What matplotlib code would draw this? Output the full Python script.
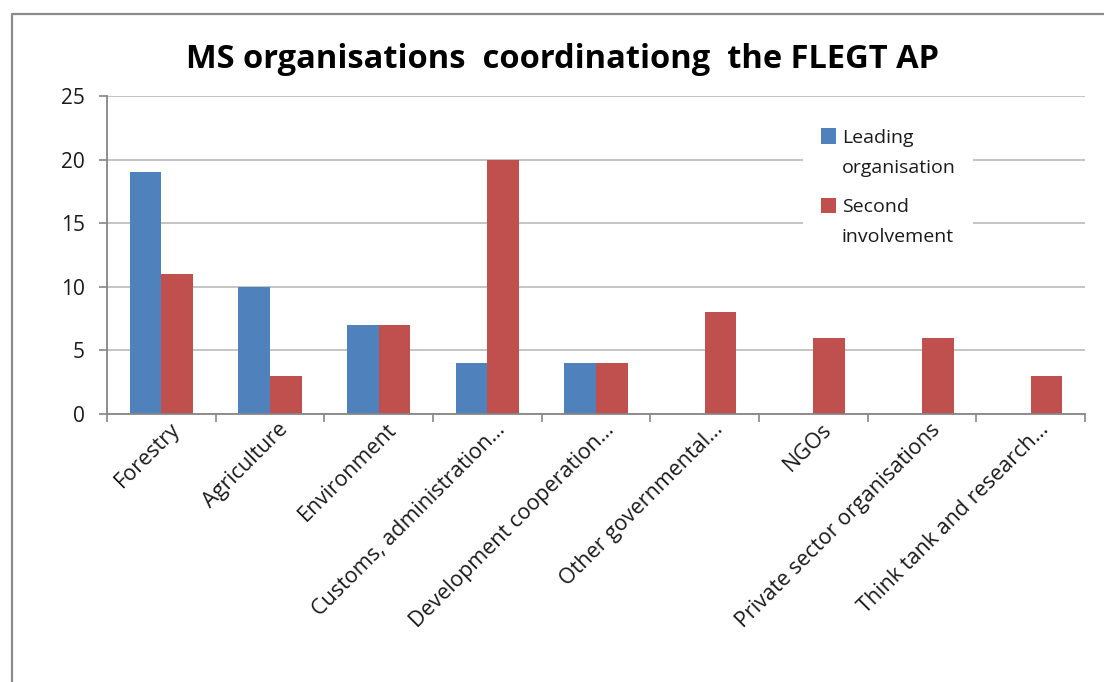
import matplotlib.pyplot as plt
import numpy as np
from matplotlib.container import BarContainer
from matplotlib.legend_handler import HandlerPatch
from matplotlib.lines import Line2D
from matplotlib.patches import Rectangle
from matplotlib.transforms import ScaledTranslation

categories = [
    "Forestry",
    "Agriculture",
    "Environment",
    "Customs, administration…",
    "Development cooperation…",
    "Other governmental…",
    "NGOs",
    "Private sector organisations",
    "Think tank and research…",
]
leading = [19, 10, 7, 4, 4, 0, 0, 0, 0]
second = [11, 3, 7, 20, 4, 8, 6, 6, 3]
series_names = ["Leading\norganisation", "Second\ninvolvement"]
y_ticks = [0, 5, 10, 15, 20, 25]

BLUE = "#4F81BD"
RED = "#C0504D"
GRID = "#BFBFBF"
AXIS = "#868686"
TEXT = "#1a1a1a"

plt.rcParams["font.family"] = ["Open Sans", "DejaVu Sans"]


def _top_square(legend, orig_handle, xdescent, ydescent, width, height, fontsize):
    # square next to the first line of a two-line label
    size = 0.78 * fontsize
    return Rectangle((-xdescent, -ydescent + 0.85 * fontsize), size, size)


def _first_bar_style(handle, orig):
    handle.update_from(orig.patches[0])


fig = plt.figure(figsize=(11.04, 6.82), dpi=100)
ax = fig.add_axes([107 / 1104, 1 - 414 / 682, 978 / 1104, 318 / 682])

x = np.arange(len(categories))
w = 0.29
ax.bar(x - w / 2, leading, width=w, color=BLUE, label=series_names[0], zorder=2)
ax.bar(x + w / 2, second, width=w, color=RED, label=series_names[1], zorder=2)

ax.set_xlim(-0.5, len(categories) - 0.5)
ax.set_ylim(0, 25)
ax.set_yticks(y_ticks)
ax.yaxis.grid(True, color=GRID, linewidth=1.3, zorder=0)
ax.set_axisbelow(True)

ax.set_xticks(x)
ax.set_xticklabels(categories, rotation=45, ha="right", va="center",
                   rotation_mode="anchor", fontsize=15.5, color=TEXT)
ax.tick_params(axis="x", which="major", length=0, pad=9)
nudge = ScaledTranslation(11 / 72, 0, fig.dpi_scale_trans)
for lab in ax.get_xticklabels():
    lab.set_transform(lab.get_transform() + nudge)
ax.set_xticks(np.arange(len(categories) + 1) - 0.5, minor=True)
ax.tick_params(axis="x", which="minor", length=6, width=1.2, color=AXIS, direction="out")
ax.tick_params(axis="y", length=6, width=1.2, color=AXIS, labelsize=15, labelcolor=TEXT, pad=10)

for side in ("top", "right"):
    ax.spines[side].set_visible(False)
for side in ("left", "bottom"):
    ax.spines[side].set_color(AXIS)
    ax.spines[side].set_linewidth(1.3)

leg = ax.legend(
    loc="upper left",
    bbox_to_anchor=(0.702, 0.983),
    fontsize=14,
    frameon=True,
    facecolor="white",
    edgecolor="none",
    framealpha=1,
    fancybox=False,
    handlelength=0.78,
    handleheight=0.78,
    handletextpad=0.3,
    labelspacing=1.1,
    borderpad=0.9,
    handler_map={BarContainer: HandlerPatch(patch_func=_top_square,
                                             update_func=_first_bar_style)},
)
for t in leg.get_texts():
    t.set_color(TEXT)
    t.set_linespacing(1.86)

fig.text(563 / 1104, 1 - 60 / 682, "MS organisations  coordinationg  the FLEGT AP",
         ha="center", va="center", fontsize=23.5, fontweight="bold", color="#000000")

# outer chart-area border (only top and left edges visible in the crop)
fig.add_artist(Line2D([12 / 1104, 12 / 1104, 1.0], [0.0, 1 - 14 / 682, 1 - 14 / 682],
                      transform=fig.transFigure, color="#8C8C8C", linewidth=1.6))

fig.savefig("out.png", dpi=100, facecolor="white")
